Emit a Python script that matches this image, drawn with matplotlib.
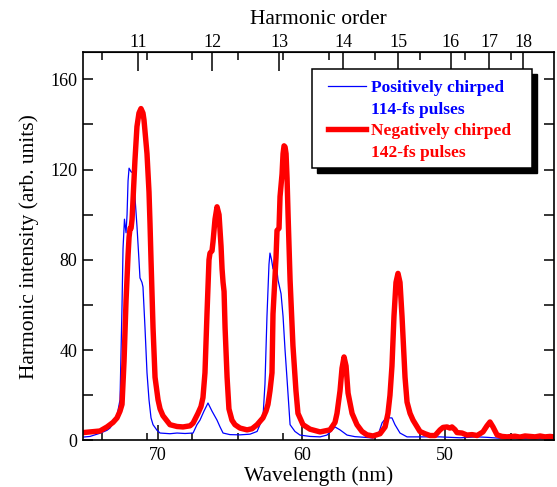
import numpy as np
import matplotlib
matplotlib.use("Agg")
import matplotlib.pyplot as plt
from matplotlib.lines import Line2D
from matplotlib.patches import Rectangle
from matplotlib.ticker import MultipleLocator

plt.rcParams['font.family'] = ['Liberation Serif', 'DejaVu Serif']

# positively chirped, 114-fs pulses (blue)
pos_wl = [75.24, 74.75, 74.06, 73.57, 73.36, 73.08, 72.87, 72.66, 72.52, 72.45,
          72.35, 72.24, 72.17, 72.10, 72.03, 71.89, 71.76, 71.69, 71.62, 71.48,
          71.34, 71.27, 71.13, 71.06, 70.92, 70.78, 70.64, 70.50, 70.36, 70.08,
          69.87, 69.18, 68.69, 68.13, 67.57, 67.30, 67.09, 66.81, 66.53, 66.25,
          65.90, 65.69, 65.48, 65.00, 64.30, 63.60, 63.11, 62.91, 62.70, 62.56,
          62.42, 62.28, 62.21, 62.10, 62.00, 61.86, 61.79, 61.65, 61.44, 61.30,
          61.16, 61.02, 60.81, 60.47, 60.12, 59.42, 58.72, 58.24, 57.89, 57.68,
          57.33, 56.84, 56.29, 55.59, 55.03, 54.68, 54.40, 54.19, 54.06, 53.85,
          53.71, 53.50, 53.15, 52.66, 51.76, 50.36, 48.97, 47.78, 47.09, 46.18,
          44.79, 42.42]
pos_int = [1.5, 1.8, 3.2, 4.5, 5.5, 8, 11, 18, 60, 85,
           98, 92, 100, 115, 120.6, 119, 118.5, 115, 108, 95,
           80, 72, 70, 68, 50, 30, 18, 10, 7, 4.5,
           3.3, 3.0, 3.3, 3.1, 3.3, 7, 9, 13, 16.6, 13,
           9, 6, 3.3, 2.6, 2.5, 2.8, 4, 7, 10, 25,
           55, 78, 83, 80, 76, 81, 79, 71, 65, 55,
           40, 27, 7, 4, 2.4, 1.8, 1.6, 2.4, 4.5, 6,
           4.7, 2.4, 1.7, 1.4, 1.1, 2.4, 7.8, 9.5, 10.4, 10,
           10, 7, 3.3, 1.6, 1.6, 1.6, 1.2, 1.6, 1.4, 1.0,
           0.8, 0.8]

# negatively chirped, 142-fs pulses (red)
neg_wl = [75.24, 74.75, 74.06, 73.57, 73.15, 72.87, 72.66, 72.52, 72.38, 72.24,
          72.10, 72.03, 71.96, 71.89, 71.82, 71.76, 71.62, 71.48, 71.34, 71.20,
          71.06, 70.99, 70.92, 70.78, 70.64, 70.57, 70.50, 70.36, 70.22, 70.01,
          69.87, 69.67, 69.18, 68.69, 68.27, 67.78, 67.57, 67.23, 67.02, 66.88,
          66.74, 66.60, 66.46, 66.39, 66.25, 66.18, 66.04, 65.90, 65.76, 65.62,
          65.55, 65.48, 65.41, 65.34, 65.20, 65.07, 64.86, 64.65, 64.30, 63.81,
          63.46, 63.11, 62.70, 62.49, 62.35, 62.21, 62.07, 62.00, 61.79, 61.72,
          61.58, 61.51, 61.37, 61.30, 61.23, 61.16, 61.09, 61.02, 60.95, 60.81,
          60.61, 60.40, 60.26, 59.91, 59.42, 58.72, 58.03, 57.68, 57.54, 57.33,
          57.19, 57.05, 56.91, 56.77, 56.49, 56.15, 55.80, 55.45, 55.03, 54.54,
          54.19, 53.99, 53.85, 53.71, 53.57, 53.43, 53.29, 53.15, 53.01, 52.80,
          52.66, 52.45, 52.24, 51.76, 51.41, 51.06, 50.71, 50.36, 50.15, 49.87,
          49.67, 49.53, 49.32, 49.18, 48.83, 48.48, 48.13, 47.78, 47.37, 47.09,
          46.88, 46.67, 46.39, 46.04, 45.69, 45.14, 44.79, 44.44, 44.09, 43.74,
          43.39, 43.05, 42.70, 42.42]
neg_int = [3.5, 3.8, 4.2, 6, 8, 10, 13, 16, 35, 62,
           82, 90, 94, 94, 98, 106, 124, 139, 145, 147,
           145, 142, 137, 127, 110, 96, 80, 50, 28, 18,
           14, 11, 7, 6.2, 6, 6.5, 7.7, 12, 15, 19,
           30, 56, 80, 83, 84, 88, 98, 103.5, 100, 86,
           76, 70, 66, 50, 28, 14, 9, 7, 5.5, 4.7,
           5.2, 7, 10, 13, 16, 22, 30, 56, 81, 93,
           94, 108, 118, 127, 130.5, 130, 127, 116, 100, 71,
           42, 22, 12, 7, 5, 3.8, 4.7, 8, 12, 22,
           32, 37, 33, 21, 12, 7, 4, 2.5, 2, 3,
           6, 12, 20, 33, 55, 70, 74, 70, 55, 28,
           17, 12, 9, 4, 3, 2.2, 2.2, 4.7, 5.8, 6,
           5.5, 6, 4.8, 3.5, 3.3, 2.4, 2.6, 2.2, 3.8, 6.5,
           8.2, 6, 2.5, 1.8, 1.6, 1.9, 1.5, 2, 1.8, 1.6,
           2, 1.6, 1.8, 1.6]

# top axis: harmonic orders and where their ticks sit on the wavelength axis
harm_orders = [11, 12, 13, 14, 15, 16, 17, 18]
harm_wl = [71.41, 66.25, 61.58, 57.12, 53.29, 49.60, 46.95, 44.58]

wl_major = [70, 60, 50]
wl_minor = [73.92, 70.78, 67.64, 64.44, 61.30, 58.10, 54.89, 51.76, 48.62, 45.41]

legend_labels = ["Positively chirped", "114-fs pulses",
                 "Negatively chirped", "142-fs pulses"]

fig = plt.figure(figsize=(5.57, 4.87), dpi=100)
ax = fig.add_axes([0.149, 0.0955, 0.8456, 0.7975])

l_pos, = ax.plot(pos_wl, pos_int, color='#0000ff', lw=0.9)
l_neg, = ax.plot(neg_wl, neg_int, color='#ff0000', lw=3.9, solid_joinstyle='round')

ax.set_xlim(75.24, 42.42)
ax.set_ylim(0, 172)

ax.set_xticks(wl_major)
ax.set_xticks(wl_minor, minor=True)
ax.yaxis.set_major_locator(MultipleLocator(40))
ax.yaxis.set_minor_locator(MultipleLocator(20))

ax.tick_params(axis='both', which='both', direction='in', labelsize=13, width=1.1)
ax.tick_params(axis='x', which='major', length=11, pad=5)
ax.tick_params(axis='x', which='minor', length=5)
ax.tick_params(axis='y', which='both', length=7, right=True, pad=4)
ax.tick_params(axis='x', which='both', top=False)
for s in ax.spines.values():
    s.set_linewidth(1.2)

ax.set_xlabel("Wavelength (nm)", fontsize=15.5, labelpad=1)
ax.set_ylabel("Harmonic intensity (arb. units)", fontsize=15.5, labelpad=8)

top = ax.secondary_xaxis('top')
top.set_xticks(harm_wl, labels=[str(n) for n in harm_orders])
top.set_xticks(wl_minor, minor=True)
top.tick_params(axis='x', which='major', direction='in', length=14, width=1.1, labelsize=13, pad=1)
top.tick_params(axis='x', which='minor', direction='in', length=6, width=1.1)
top.set_xlabel("Harmonic order", fontsize=15.5, labelpad=7)

# legend box with a hard black shadow
bx, by, bw, bh = 0.486, 0.701, 0.467, 0.255
ax.add_patch(Rectangle((bx + 0.011, by - 0.013), bw, bh, transform=ax.transAxes,
                       facecolor='black', edgecolor='black', zorder=4))
ax.add_patch(Rectangle((bx, by), bw, bh, transform=ax.transAxes,
                       facecolor='white', edgecolor='black', lw=1.1, zorder=5))

blank = Line2D([], [], alpha=0)
leg = ax.legend([l_pos, blank, l_neg, blank], legend_labels,
                loc='upper left', bbox_to_anchor=(0.52, 0.929),
                frameon=False, prop={'weight': 'bold', 'size': 12.5},
                handlelength=2.2, handletextpad=0.3, labelspacing=0.32,
                borderpad=0, borderaxespad=0)
leg.set_zorder(6)
for txt, c in zip(leg.get_texts(), ['#0000ff', '#0000ff', '#ff0000', '#ff0000']):
    txt.set_color(c)

fig.savefig("out.png", dpi=100)
